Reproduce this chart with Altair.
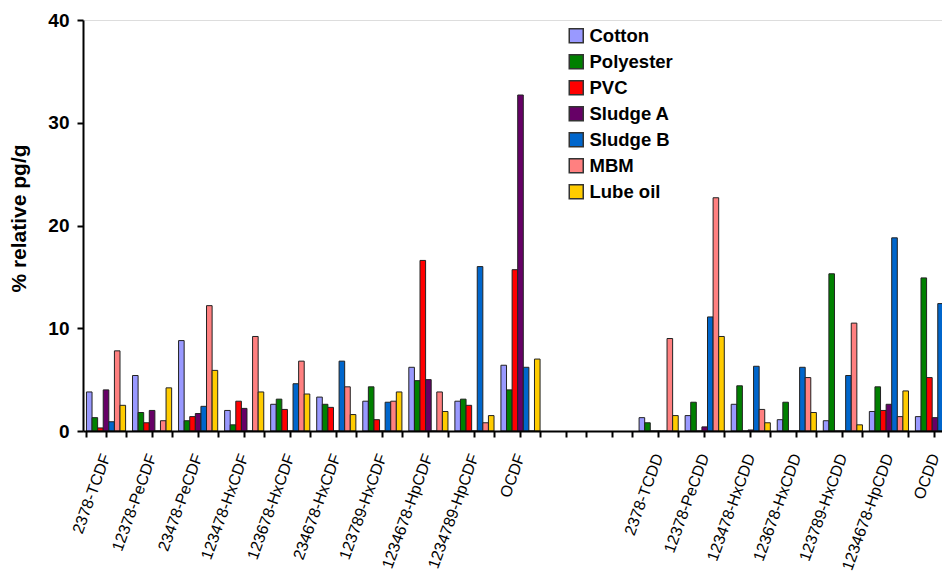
import altair as alt
import pandas as pd

categories = ["2378-TCDF", "12378-PeCDF", "23478-PeCDF", "123478-HxCDF", "123678-HxCDF",
              "234678-HxCDF", "123789-HxCDF", "1234678-HpCDF", "1234789-HpCDF", "OCDF",
              " ", "  ",
              "2378-TCDD", "12378-PeCDD", "123478-HxCDD", "123678-HxCDD", "123789-HxCDD",
              "1234678-HpCDD", "OCDD"]
series = ["Cotton", "Polyester", "PVC", "Sludge A", "Sludge B", "MBM", "Lube oil"]
colors = ["#9999ff", "#008000", "#ff0000", "#660066", "#0066cc", "#ff8080", "#ffcc00"]

cotton    = [3.8, 5.4, 8.8, 2.0, 2.6, 3.3, 2.9, 6.2, 2.9, 6.4, 1.3, 1.5, 2.6, 1.1, 1.0, 1.9, 1.4]
polyester = [1.3, 1.8, 1.0, 0.6, 3.1, 2.6, 4.3, 4.9, 3.1, 4.0, 0.8, 2.8, 4.4, 2.8, 15.3, 4.3, 14.9]
pvc       = [0.3, 0.8, 1.4, 2.9, 2.1, 2.3, 1.1, 16.6, 2.5, 15.7, 0.0, 0.0, 0.0, 0.0, 0.0, 2.0, 5.2]
sludge_a  = [4.0, 2.0, 1.7, 2.2, 0.0, 0.0, 0.0, 5.0, 0.0, 32.7, 0.0, 0.4, 0.1, 0.0, 0.0, 2.6, 1.3]
sludge_b  = [0.9, 0.0, 2.4, 0.0, 4.6, 6.8, 2.8, 0.0, 16.0, 6.2, 0.0, 11.1, 6.3, 6.2, 5.4, 18.8, 12.4]
mbm       = [7.8, 1.0, 12.2, 9.2, 6.8, 4.3, 2.9, 3.8, 0.8, 0.0, 9.0, 22.7, 2.1, 5.2, 10.5, 1.4, 9.8]
lube_oil  = [2.5, 4.2, 5.9, 3.8, 3.6, 1.6, 3.8, 1.9, 1.5, 7.0, 1.5, 9.2, 0.8, 1.8, 0.6, 3.9, 1.0]

real_cats = [c for c in categories if c.strip()]
rows = []
for s, vals in zip(series, [cotton, polyester, pvc, sludge_a, sludge_b, mbm, lube_oil]):
    for c, v in zip(real_cats, vals):
        rows.append({"cat": c, "series": s, "value": v})
df = pd.DataFrame(rows)

FONT = "Liberation Sans"

xscale = alt.Scale(domain=categories, paddingInner=0.15, paddingOuter=0.075)

bars = alt.Chart(df).mark_bar(stroke="#222222", strokeWidth=1).encode(
    x=alt.X("cat:N", scale=xscale, sort=categories,
            axis=alt.Axis(title=None, orient="bottom", labelAngle=290, labelAlign="right",
                          labelBaseline="middle", labelFontSize=16, labelFont=FONT,
                          labelColor="black", labelPadding=17, labelLimit=400,
                          tickSize=6, tickWidth=2, tickColor="black",
                          domainWidth=2, domainColor="black", zindex=1)),
    xOffset=alt.XOffset("series:N", sort=series,
                        scale=alt.Scale(domain=series, paddingInner=0, paddingOuter=0)),
    y=alt.Y("value:Q", scale=alt.Scale(domain=[0, 40], nice=False),
            axis=alt.Axis(title="% relative pg/g", values=[0, 10, 20, 30, 40], grid=False,
                          titleFontSize=21, titleFontWeight="bold", titleFont=FONT,
                          titleColor="black", titlePadding=18, titleY=198,
                          labelFontSize=19, labelFontWeight="bold", labelFont=FONT,
                          labelColor="black", labelPadding=8,
                          tickSize=6, tickWidth=2, tickColor="black",
                          domainWidth=2, domainColor="black", zindex=1)),
    color=alt.Color("series:N", sort=series,
                    scale=alt.Scale(domain=series, range=colors),
                    legend=alt.Legend(title=None, orient="none", legendX=484, legendY=6.5,
                                      symbolType="square", symbolSize=196,
                                      symbolStrokeColor="#333333", symbolStrokeWidth=1.5,
                                      symbolOpacity=1,
                                      labelFontSize=18.5, labelFontWeight="bold", labelFont=FONT,
                                      labelColor="black", rowPadding=5, labelOffset=4,
                                      padding=0)),
)

edge_ticks = alt.Chart(df).mark_point(opacity=0).encode(
    x=alt.X("cat:N", scale=xscale, sort=categories,
            axis=alt.Axis(title=None, orient="bottom", labels=False, tickBand="extent",
                          tickSize=6, tickWidth=2, tickColor="black", domain=False, zindex=1)),
)

chart = alt.layer(bars, edge_ticks).resolve_axis(x="independent").properties(
    width=875, height=411,
    padding={"left": 75, "top": 12, "right": -16, "bottom": 150},
    autosize=alt.AutoSizeParams(type="none"),
).configure_view(stroke=None).configure(font=FONT)

chart.save("out.html", embed_options={"renderer": "svg", "actions": False})
